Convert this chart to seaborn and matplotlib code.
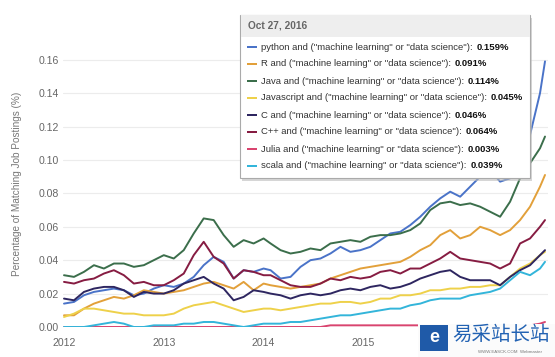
import pandas as pd
import numpy as np
import matplotlib.pyplot as plt
import matplotlib.patches as mpatches
import seaborn as sns

# ===================== 数据 =====================
years = [2012.0, 2012.1, 2012.2, 2012.3, 2012.4, 2012.5, 2012.6, 2012.7, 2012.8, 2012.9,
         2013.0, 2013.1, 2013.2, 2013.3, 2013.4, 2013.5, 2013.6, 2013.7, 2013.8, 2013.9,
         2014.0, 2014.07, 2014.17, 2014.27, 2014.37, 2014.47, 2014.57, 2014.67, 2014.77,
         2014.87, 2014.97, 2015.07, 2015.17, 2015.27, 2015.37, 2015.47, 2015.57, 2015.67,
         2015.77, 2015.87, 2015.97, 2016.07, 2016.17, 2016.27, 2016.37, 2016.47, 2016.57,
         2016.67, 2016.77, 2016.82]

python = [0.014, 0.015, 0.019, 0.021, 0.022, 0.023, 0.022, 0.019, 0.020, 0.023,
          0.025, 0.024, 0.026, 0.030, 0.037, 0.042, 0.039, 0.029, 0.034, 0.033,
          0.035, 0.034, 0.029, 0.030, 0.036, 0.040, 0.041, 0.044, 0.048,
          0.045, 0.046, 0.048, 0.052, 0.056, 0.057, 0.061, 0.066, 0.072,
          0.077, 0.081, 0.078, 0.084, 0.090, 0.094, 0.087, 0.089, 0.100,
          0.115, 0.140, 0.159]
r_lang = [0.007, 0.007, 0.011, 0.014, 0.016, 0.018, 0.017, 0.019, 0.022, 0.021,
          0.020, 0.021, 0.022, 0.024, 0.026, 0.027, 0.025, 0.023, 0.027, 0.022,
          0.026, 0.025, 0.024, 0.023, 0.024, 0.025, 0.026, 0.029, 0.031,
          0.033, 0.035, 0.036, 0.037, 0.038, 0.039, 0.042, 0.046, 0.049,
          0.055, 0.058, 0.053, 0.055, 0.060, 0.058, 0.055, 0.058, 0.064,
          0.072, 0.084, 0.091]
java = [0.031, 0.030, 0.033, 0.037, 0.035, 0.038, 0.038, 0.036, 0.037, 0.040,
        0.043, 0.041, 0.046, 0.056, 0.065, 0.064, 0.055, 0.048, 0.052, 0.050,
        0.053, 0.050, 0.046, 0.044, 0.045, 0.047, 0.046, 0.050, 0.051,
        0.052, 0.051, 0.054, 0.055, 0.055, 0.056, 0.058, 0.062, 0.070,
        0.074, 0.075, 0.073, 0.074, 0.072, 0.069, 0.066, 0.075, 0.089,
        0.098, 0.107, 0.114]
javascript = [0.006, 0.008, 0.011, 0.011, 0.010, 0.009, 0.008, 0.008, 0.007, 0.007,
              0.007, 0.008, 0.011, 0.013, 0.014, 0.015, 0.013, 0.011, 0.009, 0.010,
              0.011, 0.011, 0.010, 0.011, 0.012, 0.013, 0.014, 0.014, 0.015,
              0.015, 0.014, 0.015, 0.017, 0.017, 0.019, 0.019, 0.020, 0.022,
              0.022, 0.023, 0.023, 0.024, 0.024, 0.025, 0.025, 0.030, 0.035,
              0.038, 0.043, 0.045]
c_lang = [0.017, 0.016, 0.021, 0.023, 0.024, 0.024, 0.022, 0.018, 0.021, 0.020,
          0.020, 0.022, 0.026, 0.028, 0.030, 0.026, 0.023, 0.016, 0.018, 0.022,
          0.021, 0.020, 0.019, 0.017, 0.019, 0.020, 0.019, 0.020, 0.022,
          0.023, 0.022, 0.024, 0.025, 0.023, 0.024, 0.026, 0.029, 0.031,
          0.033, 0.034, 0.030, 0.028, 0.028, 0.028, 0.025, 0.030, 0.034,
          0.037, 0.043, 0.046]
cpp = [0.027, 0.026, 0.028, 0.029, 0.032, 0.034, 0.031, 0.026, 0.027, 0.025,
       0.025, 0.028, 0.032, 0.043, 0.051, 0.042, 0.038, 0.029, 0.034, 0.033,
       0.031, 0.031, 0.028, 0.025, 0.024, 0.024, 0.026, 0.029, 0.028,
       0.030, 0.029, 0.030, 0.033, 0.034, 0.032, 0.035, 0.035, 0.038,
       0.041, 0.045, 0.041, 0.040, 0.039, 0.038, 0.035, 0.038, 0.050,
       0.053, 0.060, 0.064]
julia = [0.000, 0.000, 0.000, 0.000, 0.000, 0.000, 0.000, 0.000, 0.000, 0.000,
         0.000, 0.000, 0.000, 0.000, 0.000, 0.000, 0.000, 0.000, 0.000, 0.000,
         0.000, 0.000, 0.000, 0.000, 0.000, 0.000, 0.000, 0.001, 0.001,
         0.001, 0.001, 0.001, 0.001, 0.001, 0.001, 0.001, 0.001, 0.001,
         0.001, 0.001, 0.001, 0.001, 0.001, 0.001, 0.001, 0.001, 0.001,
         0.001, 0.002, 0.003]
scala = [0.000, 0.000, 0.000, 0.001, 0.002, 0.003, 0.002, 0.000, 0.000, 0.001,
         0.001, 0.001, 0.002, 0.002, 0.003, 0.003, 0.002, 0.001, 0.000, 0.001,
         0.002, 0.002, 0.002, 0.003, 0.003, 0.004, 0.005, 0.006, 0.007,
         0.007, 0.008, 0.009, 0.010, 0.011, 0.011, 0.013, 0.014, 0.016,
         0.017, 0.017, 0.017, 0.019, 0.020, 0.021, 0.023, 0.028, 0.033,
         0.031, 0.035, 0.039]

langs = ["python", "R", "Java", "Javascript", "C", "C++", "Julia", "scala"]
last_vals = ["0.159%", "0.091%", "0.114%", "0.045%", "0.046%", "0.064%", "0.003%", "0.039%"]
# 2016 刻度被水印遮住，不显示
year_ticks = [2012, 2013, 2014, 2015]
y_ticks = [0.00, 0.02, 0.04, 0.06, 0.08, 0.10, 0.12, 0.14, 0.16]

colors = ["#4a73c8", "#e2a03a", "#3b6e4b", "#eed14a", "#2e2660", "#861c42", "#d9446f", "#33b5da"]

series = [python, r_lang, java, javascript, c_lang, cpp, julia, scala]
rows = []
for name, vals in zip(langs, series):
    for yr, v in zip(years, vals):
        rows.append({"year": yr, "value": v, "lang": name})
df = pd.DataFrame(rows)

# ===================== 绘图 =====================
sns.set_style("white")
plt.rcParams["font.family"] = ["Liberation Sans", "DejaVu Sans"]

fig = plt.figure(figsize=(5.55, 3.57), dpi=100)
ax = fig.add_axes([63 / 555, 30 / 357, 485 / 555, 287 / 357])

sns.lineplot(data=df, x="year", y="value", hue="lang", hue_order=langs,
             palette=colors, linewidth=1.4, legend=False, ax=ax)

ax.set_xlim(2011.99, 2016.85)
ax.set_ylim(0, 0.1718)
ax.set_xticks(year_ticks)
ax.set_xticklabels([str(y) for y in year_ticks])
ax.set_yticks(y_ticks)
ax.set_yticklabels([f"{v:.2f}" for v in y_ticks])
ax.grid(axis="y", color="#ececec", linewidth=0.8)
ax.set_axisbelow(True)
for s in ax.spines.values():
    s.set_visible(False)
ax.tick_params(axis="both", length=0, labelsize=7.6, labelcolor="#666666")
ax.tick_params(axis="y", pad=3)
ax.tick_params(axis="x", pad=8)
ax.set_xlabel("")
ax.set_ylabel("Percentage of Matching Job Postings (%)", fontsize=7.2, color="#777777", labelpad=12)

# ===================== 悬浮提示框 =====================
W, H = 555, 357
def fx(px):
    return px / W
def fy(py):
    return 1 - py / H

shadow = mpatches.Rectangle((fx(242), fy(181)), fx(290), 163 / H, transform=fig.transFigure,
                            facecolor="#bbbbbb", edgecolor="none", alpha=0.6, zorder=10)
box = mpatches.Rectangle((fx(240), fy(178)), fx(290), 163 / H, transform=fig.transFigure,
                         facecolor="white", edgecolor="#aaaaaa", linewidth=0.8, zorder=11)
header = mpatches.Rectangle((fx(240.5), fy(37)), fx(289), 21.5 / H, transform=fig.transFigure,
                            facecolor="#eeeeee", edgecolor="none", zorder=12)
fig.add_artist(shadow)
fig.add_artist(box)
fig.add_artist(header)
fig.text(fx(248), fy(26), "Oct 27, 2016", fontsize=7.3, color="#666666", fontweight="bold",
         va="center", ha="left", zorder=13)

renderer = fig.canvas.get_renderer()
for i, (name, col, val) in enumerate(zip(langs, colors, last_vals)):
    y = 47 + i * 17
    fig.add_artist(mpatches.Rectangle((fx(247), fy(y + 1.2)), fx(10), 2.5 / H,
                                      transform=fig.transFigure, facecolor=col,
                                      edgecolor="none", zorder=13))
    label = f'{name} and ("machine learning" or "data science"):'
    t = fig.text(fx(261), fy(y), label, fontsize=6.8, color="#333333",
                 va="center", ha="left", zorder=13)
    bb = t.get_window_extent(renderer=renderer)
    fig.text((bb.x1 + 4) / W, fy(y), val, fontsize=6.8, color="#111111",
             fontweight="bold", va="center", ha="left", zorder=13)

# ===================== 水印 =====================
fig.add_artist(mpatches.Rectangle((fx(418), 0), fx(137), 33 / H, transform=fig.transFigure,
                                  facecolor="#fbfbfb", edgecolor="none", zorder=14))
fig.add_artist(mpatches.Rectangle((fx(420), fy(351)), fx(28), 26 / H, transform=fig.transFigure,
                                  facecolor="#1f5aa8", edgecolor="none", zorder=15))
fig.text(fx(434), fy(338), "e", fontsize=13, color="white", fontweight="bold",
         ha="center", va="center", zorder=16)
fig.text(fx(452), fy(334), "易采站长站", fontsize=14, color="#2262b3",
         family=["Noto Sans CJK SC", "DejaVu Sans"], ha="left", va="center", zorder=16)
fig.text(fx(478), fy(352), "WWW.EASCK.COM  Webmaster", fontsize=3.2, color="#777777",
         ha="left", va="center", zorder=16)

fig.savefig("out.png", dpi=100)
